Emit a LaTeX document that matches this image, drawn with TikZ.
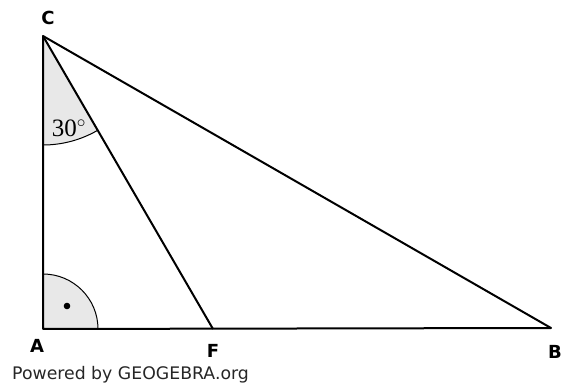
\documentclass[tikz,border=0pt]{standalone}
\usepackage{fontspec}
\setmainfont{Liberation Serif}
\newfontfamily\lblfont{DejaVu Sans}
\begin{document}
\begin{tikzpicture}[x=1pt,y=-1pt,
  edge/.style={line width=2pt, line join=round},
  lbl/.style={font=\lblfont\bfseries\fontsize{18}{18}\selectfont, inner sep=0pt},
  anglefill/.style={fill=black!9}]
\useasboundingbox (0,0) rectangle (566,385);
\coordinate (A) at (43,329);
\coordinate (B) at (551,328);
\coordinate (C) at (43,36);
\coordinate (F) at (213,329);
% angle at C
\fill[anglefill] (C) -- ++(90:109) arc[start angle=90, end angle=60, radius=109] -- cycle;
\draw[line width=1pt] (C) ++(90:109) arc[start angle=90, end angle=60, radius=109];
% right angle at A
\fill[anglefill] (A) -- ++(0:55) arc[start angle=0, end angle=-90, radius=55] -- cycle;
\draw[line width=1pt] (A) ++(0:55) arc[start angle=0, end angle=-90, radius=55];
\fill (67,306) circle (3.3);
% triangle
\draw[edge] (A) -- (B) -- (C) -- cycle;
\draw[edge] (C) -- (F);
% labels
\node[lbl] (lC) at (48,18) {C};
\node[lbl] (lA) at (37,346) {A};
\node[lbl] (lF) at (213,351) {F};
\node[lbl] (lB) at (555,352) {B};
\node[inner sep=0pt, font=\fontsize{25}{25}\selectfont] (ang) at (69,128) {30$^\circ$};
\node[inner sep=0pt, anchor=west, text=black!85, font=\lblfont\fontsize{17.3}{17.3}\selectfont] (pw) at (12,375) {Powered by GEOGEBRA.org};
\end{tikzpicture}
\end{document}
